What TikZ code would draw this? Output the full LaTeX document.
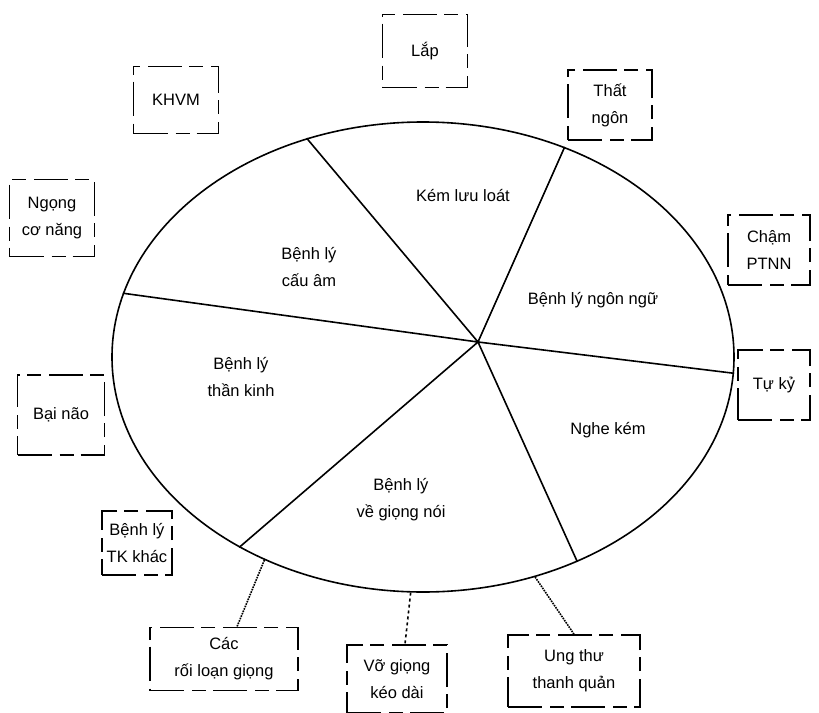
\documentclass[tikz,border=0pt]{standalone}
\usepackage{fontspec}
\setmainfont{Liberation Sans}
\usetikzlibrary{shapes.geometric}

\begin{document}
\begin{tikzpicture}[x=1pt,y=-1pt,line width=1.6pt,
            font=\fontsize{16.5}{27}\selectfont,
            every node/.style={align=center},
            box/.style={draw,inner sep=0pt,dash pattern=on 34pt off 8pt on 14pt off 7pt},
            link/.style={densely dotted}]
            \useasboundingbox (0,0) rectangle (819,712);

            \node[ellipse,draw,minimum width=622pt,minimum height=470pt,inner sep=0pt] (oval) at (423,357) {};
            \coordinate (hub) at (478,342);

            % spokes
            \draw (hub) -- (oval.118.5)
                  (hub) -- (oval.56.4)
                  (hub) -- (oval.168.8)
                  (hub) -- (oval.-3.9)
                  (hub) -- (oval.-53)
                  (hub) -- (oval.226);

            % sectors
            \node (kem)   at (463,196) {Kém lưu loát};
            \node (cauam) at (309,267) {Bệnh lý\\cấu âm};
            \node (ngonngu) at (593,300) {Bệnh lý ngôn ngữ};
            \node (thankinh) at (241,377) {Bệnh lý\\thần kinh};
            \node (nghe)  at (608,430) {Nghe kém};
            \node (giong) at (401,500) {Bệnh lý\\về giọng nói};

            % boxes
            \node[box,minimum width=85pt,minimum height=73pt] (lap)   at (425,51)  {Lắp};
            \node[box,minimum width=85pt,minimum height=67pt] (khvm)  at (176,100) {KHVM};
            \node[box,minimum width=84pt,minimum height=70pt] (that)  at (610,105) {Thất\\ngôn};
            \node[box,minimum width=85pt,minimum height=77pt] (ngong) at (52,218)  {Ngọng\\cơ năng};
            \node[box,minimum width=82pt,minimum height=70pt] (cham)  at (769,250) {Chậm\\PTNN};
            \node[box,minimum width=72pt,minimum height=70pt] (tuky)  at (774,385) {Tự kỷ};
            \node[box,minimum width=87pt,minimum height=80pt] (baino) at (61,415)  {Bại não};
            \node[box,minimum width=70pt,minimum height=64pt] (tk)    at (137,543) {Bệnh lý\\TK khác};
            \node[box,minimum width=148pt,minimum height=63pt] (cac)  at (224,659) {Các\\rối loạn giọng};
            \node[box,minimum width=100pt,minimum height=68pt] (vo)   at (397,679) {Vỡ giọng\\kéo dài};
            \node[box,minimum width=132pt,minimum height=72pt] (ung)  at (574,671) {Ung thư\\thanh quản};

            % links
            \draw[link] (oval.232) -- ([xshift=13pt]cac.north);
            \draw[dashed] (oval.267) -- ([xshift=8pt]vo.north);
            \draw[link] (oval.297.6) -- (ung.north);
\end{tikzpicture}
\end{document}
